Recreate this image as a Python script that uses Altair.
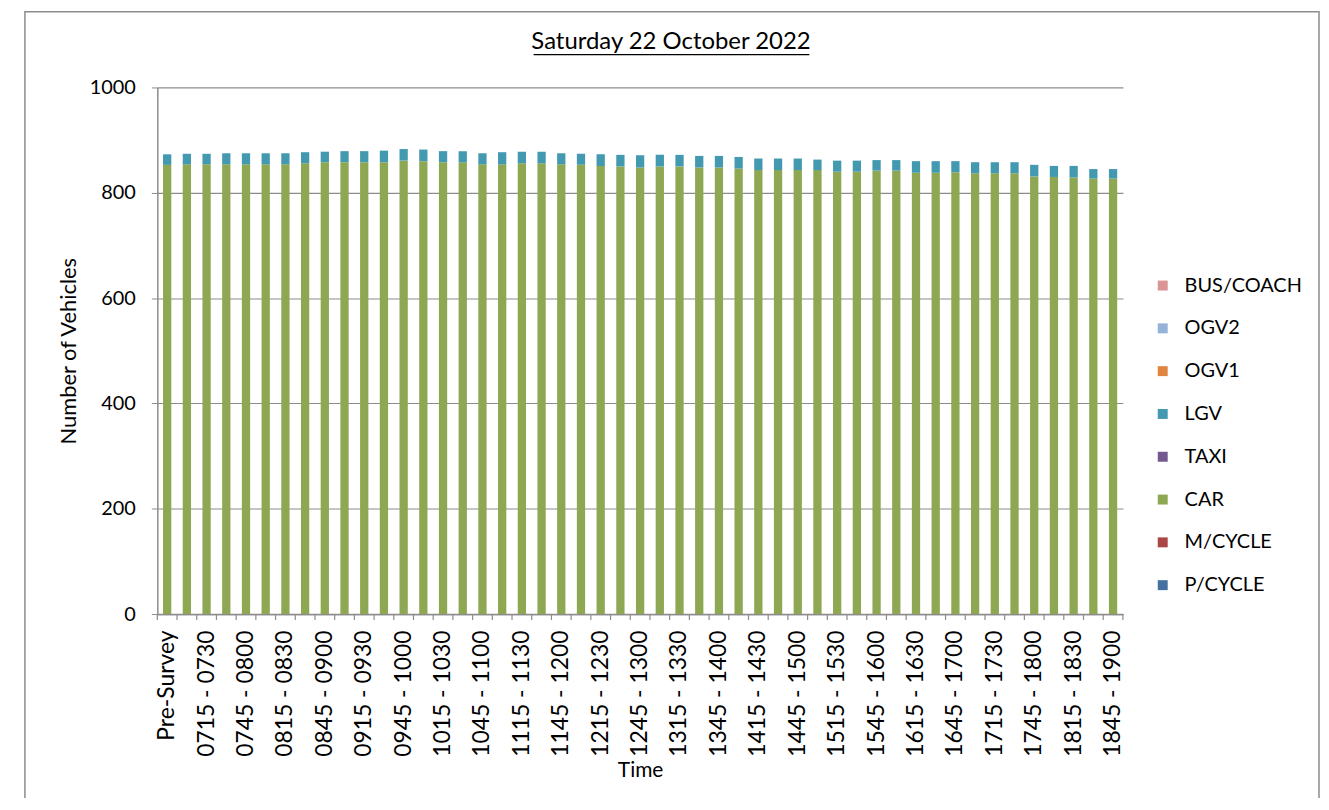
import altair as alt
import pandas as pd

times = [
    "Pre-Survey",
    "0700 - 0715", "0715 - 0730", "0730 - 0745", "0745 - 0800",
    "0800 - 0815", "0815 - 0830", "0830 - 0845", "0845 - 0900",
    "0900 - 0915", "0915 - 0930", "0930 - 0945", "0945 - 1000",
    "1000 - 1015", "1015 - 1030", "1030 - 1045", "1045 - 1100",
    "1100 - 1115", "1115 - 1130", "1130 - 1145", "1145 - 1200",
    "1200 - 1215", "1215 - 1230", "1230 - 1245", "1245 - 1300",
    "1300 - 1315", "1315 - 1330", "1330 - 1345", "1345 - 1400",
    "1400 - 1415", "1415 - 1430", "1430 - 1445", "1445 - 1500",
    "1500 - 1515", "1515 - 1530", "1530 - 1545", "1545 - 1600",
    "1600 - 1615", "1615 - 1630", "1630 - 1645", "1645 - 1700",
    "1700 - 1715", "1715 - 1730", "1730 - 1745", "1745 - 1800",
    "1800 - 1815", "1815 - 1830", "1830 - 1845", "1845 - 1900",
]

car = [853, 854, 854, 854, 854, 854, 854, 856, 858, 858, 858, 858, 861, 860, 858, 858,
       854, 854, 856, 856, 854, 853, 851, 850, 848, 850, 850, 848, 848, 846, 843, 843,
       843, 843, 840, 840, 842, 842, 838, 838, 839, 837, 837, 837, 831, 830, 829, 827, 827]
lgv = [20, 20, 20, 21, 21, 21, 21, 21, 20, 21, 21, 22, 22, 22, 21, 21,
       21, 23, 22, 22, 21, 21, 22, 22, 23, 22, 22, 22, 22, 22, 22, 22,
       22, 20, 21, 21, 20, 20, 22, 22, 21, 21, 21, 21, 22, 21, 22, 18, 18]

legend_order = ["BUS/COACH", "OGV2", "OGV1", "LGV", "TAXI", "CAR", "M/CYCLE", "P/CYCLE"]
legend_colors = ["#d99694", "#95b3d7", "#e0853f", "#4299b0", "#74588f", "#8ea752", "#aa4744", "#44719f"]
stack_rank = {"P/CYCLE": 0, "M/CYCLE": 1, "CAR": 2, "TAXI": 3, "LGV": 4, "OGV1": 5, "OGV2": 6, "BUS/COACH": 7}

title_text = "Saturday 22 October 2022"

rows = []
for t, c, l in zip(times, car, lgv):
    rows.append({"Time": t, "Type": "CAR", "Vehicles": c, "rank": stack_rank["CAR"]})
    rows.append({"Time": t, "Type": "LGV", "Vehicles": l, "rank": stack_rank["LGV"]})
df = pd.DataFrame(rows)

FONT = "Lato"
W, H = 970, 529
GRID = "#8c8c8c"

xscale = alt.Scale(domain=times, paddingInner=0, paddingOuter=0)

bars = alt.Chart(df).mark_bar(width=alt.RelativeBandSize(0.42)).encode(
    x=alt.X("Time:N", sort=times, scale=xscale,
            axis=alt.Axis(title="Time", labelAngle=270, ticks=False, labelPadding=16,
                          labelExpr="(slice(datum.label, 2, 4) == '00' || slice(datum.label, 2, 4) == '30') ? '' : datum.label",
                          labelFontSize=23, titleFontSize=21, titlePadding=3,
                          labelColor="#000", titleColor="#000", titleFontWeight="normal",
                          domainColor=GRID, domainWidth=1.5, grid=False, labelOverlap=False)),
    y=alt.Y("Vehicles:Q", stack="zero",
            scale=alt.Scale(domain=[0, 1000], nice=False),
            axis=alt.Axis(title="Number of Vehicles", values=[0, 200, 400, 600, 800, 1000],
                          format="d", tickSize=6, tickColor=GRID, labelPadding=16, labelFontSize=20,
                          titleFontSize=22, titlePadding=9, labelColor="#000", titleColor="#000",
                          titleFontWeight="normal", domainColor=GRID, domainWidth=1.5,
                          grid=True, gridColor=GRID, gridWidth=1.2)),
    color=alt.Color("Type:N",
                    scale=alt.Scale(domain=legend_order, range=legend_colors),
                    legend=alt.Legend(title=None, orient="none", legendX=1000, legendY=189,
                                      symbolType="square", symbolSize=100, symbolStrokeWidth=0,
                                      labelFontSize=20, labelColor="#000", rowPadding=23,
                                      labelOffset=12)),
    order=alt.Order("rank:Q", sort="ascending"),
)

tick_df = pd.DataFrame({"Time": times})
ticks = alt.Chart(tick_df).mark_rule(color=GRID, strokeWidth=1.2).encode(
    x=alt.X("Time:N", sort=times, scale=xscale, bandPosition=0),
    y=alt.value(H),
    y2=alt.value(H + 6),
)
end_tick = alt.Chart(pd.DataFrame({"Time": [times[-1]]})).mark_rule(color=GRID, strokeWidth=1.2).encode(
    x=alt.X("Time:N", sort=times, scale=xscale, bandPosition=1),
    y=alt.value(H),
    y2=alt.value(H + 6),
)

title = alt.Chart(pd.DataFrame({"t": [title_text]})).mark_text(
    fontSize=24, font=FONT, color="#000", align="center", baseline="middle"
).encode(text="t:N", x=alt.value(516), y=alt.value(-46))

one = pd.DataFrame({"a": [0]})
underline = alt.Chart(one).mark_rule(color="#000", strokeWidth=1.2).encode(
    x=alt.value(378), x2=alt.value(655), y=alt.value(-33)
)
border = alt.Chart(one).mark_rect(fillOpacity=0, stroke="#8c8c8c", strokeWidth=1.5).encode(
    x=alt.value(-133), x2=alt.value(1167), y=alt.value(-76), y2=alt.value(760)
)

chart = alt.layer(border, bars, ticks, end_tick, title, underline).properties(
    width=W, height=H,
    autosize=alt.AutoSizeParams(type="none"),
    padding={"left": 150, "top": 78, "right": 199, "bottom": 183},
).configure(font=FONT).configure_view(stroke=None).configure_axis(labelFont=FONT, titleFont=FONT).configure_legend(labelFont=FONT)

chart.save("out.html", embed_options={"renderer": "svg", "actions": False})
